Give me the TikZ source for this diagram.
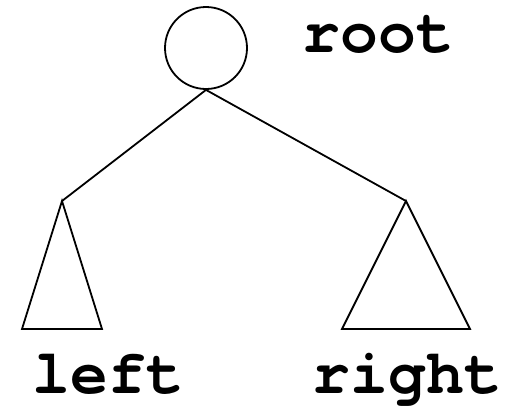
\documentclass[tikz,border=0pt]{standalone}
\usepackage{fontspec}
\setmonofont{TeX Gyre Cursor}
\usetikzlibrary{positioning}

\begin{document}
\begin{tikzpicture}[x=1pt, y=-1pt, line width=1.8pt,
        main/.style = {draw, circle, minimum size=82pt, inner sep=0pt},
        lbl/.style = {anchor=base west, inner sep=0pt, font=\ttfamily\bfseries\fontsize{63}{63}\selectfont}]
            \useasboundingbox (0,0) rectangle (507,408);

            \node[main] (root) at (206,48) {};
            \node[lbl] (rootlbl) at (302,52) {root};

            \coordinate (Ltop) at (62,201);
            \coordinate (Lbl) at (22,329);
            \coordinate (Lbr) at (102,329);
            \coordinate (Rtop) at (406,201);
            \coordinate (Rbl) at (342,329);
            \coordinate (Rbr) at (470,329);

            \path (root.south) edge (Ltop);
            \path (root.south) edge (Rtop);

            \draw (Ltop) -- (Lbl) -- (Lbr) -- cycle;
            \draw (Rtop) -- (Rbl) -- (Rbr) -- cycle;

            \node[lbl] (leftlbl) at (32,393) {left};
            \node[lbl] (rightlbl) at (312,393) {right};
        \end{tikzpicture}
\end{document}
